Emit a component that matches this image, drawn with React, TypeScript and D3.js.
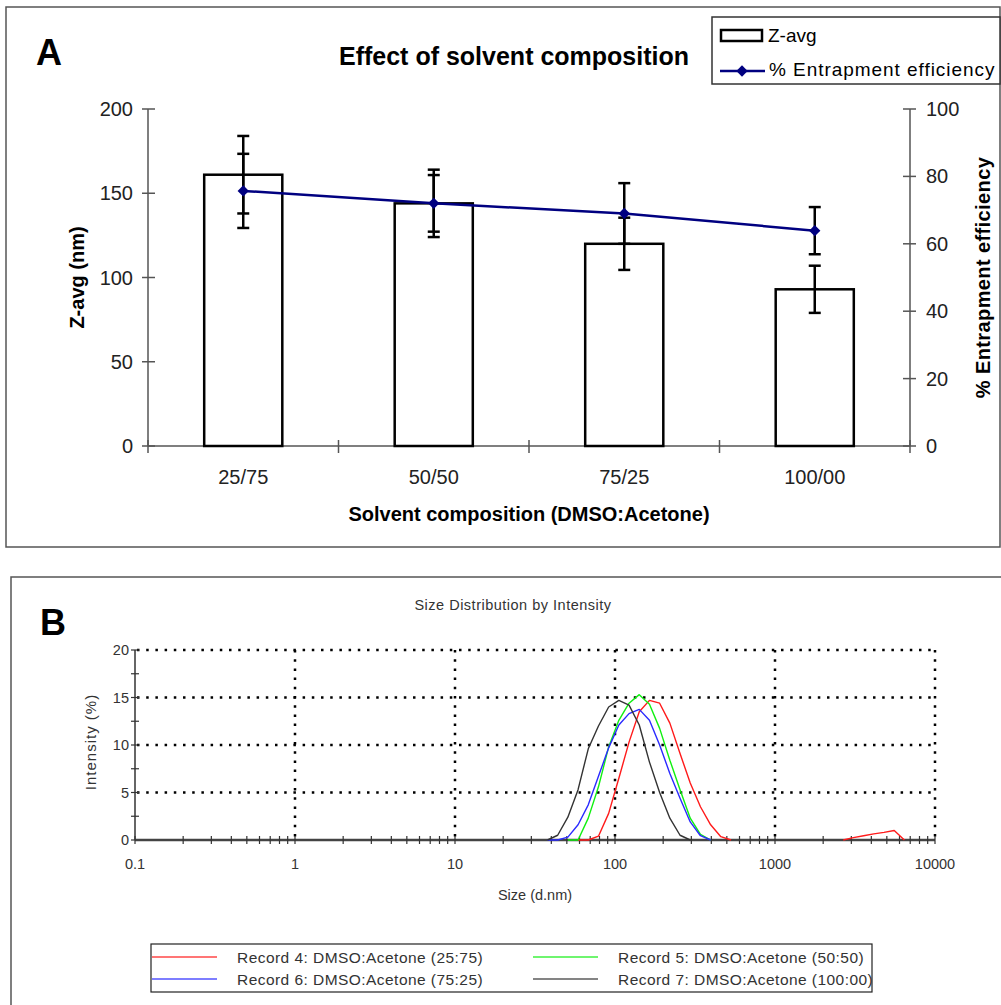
import React, { useEffect, useRef } from "react";
import * as d3 from "d3";

// ---- Panel A data ----
const compositions = ["25/75", "50/50", "75/25", "100/00"];
const zAvg = [161, 144, 120, 93];
const zAvgErr = [23, 20, 15.5, 14];
const entrapment = [75.7, 72, 69, 63.9];
const entrapmentErr = [11, 8.4, 9, 7];
const leftTicks = [0, 50, 100, 150, 200];
const rightTicks = [0, 20, 40, 60, 80, 100];

// ---- Panel B data ----
const sizeBins = [
  37.84, 43.82, 50.75, 58.77, 68.06, 78.82, 91.28, 105.7, 122.4, 141.8, 164.2,
  190.1, 220.2, 255.0, 295.3, 342.0, 396.1, 458.7, 531.2,
];
const tailBins = [2669, 3091, 3580, 4145, 4801, 5560, 6439];
const record4 = [null, null, null, 0, 0, 0.4, 2.8, 6.5, 10.3, 13.5, 14.7, 14.4, 12.3, 9.1, 6.0, 3.5, 1.6, 0.35, 0];
const record4Tail = [0, 0.25, 0.45, 0.65, 0.8, 1.0, 0];
const record5 = [null, null, 0, 0, 2.3, 5.6, 9.8, 12.6, 14.4, 15.3, 14.3, 11.75, 8.4, 5.3, 2.3, 0.6, 0, null, null];
const record6 = [0, 0, 0.3, 1.6, 3.7, 6.7, 9.7, 12.1, 13.3, 13.75, 12.6, 10.0, 7.0, 4.4, 1.9, 0.45, 0, null, null];
const record7 = [0, 0.5, 2.4, 5.3, 9.6, 12.0, 14.0, 14.7, 14.2, 12.1, 8.2, 5.0, 2.3, 0.5, 0, null, null, null, null];
const recordNames = [
  "Record 4: DMSO:Acetone (25:75)",
  "Record 5: DMSO:Acetone (50:50)",
  "Record 6: DMSO:Acetone (75:25)",
  "Record 7: DMSO:Acetone (100:00)",
];
const recordColors = ["#ff1a1a", "#10f010", "#2a2aff", "#333333"];
const intensityTicks = [0, 5, 10, 15, 20];
const sizeTicks = [0.1, 1, 10, 100, 1000, 10000];

const W = 1001;
const H = 1005;
const FONT = "'Liberation Sans', Arial, sans-serif";

const drawPanelA = (g) => {
  const x = d3
    .scaleBand()
    .domain(compositions)
    .range([148, 910])
    .paddingInner(0.59)
    .paddingOuter(0.295);
  const yL = d3.scaleLinear().domain([0, 200]).range([446, 109]);
  const yR = d3.scaleLinear().domain([0, 100]).range([446, 109]);
  const cx = (c) => x(c) + x.bandwidth() / 2;

  g.append("rect")
    .attr("x", 6).attr("y", 7).attr("width", 994).attr("height", 540)
    .attr("fill", "none").attr("stroke", "#555").attr("stroke-width", 1.5);

  g.append("text").attr("x", 36).attr("y", 65).attr("font-size", 36)
    .attr("font-weight", "bold").attr("font-family", FONT).text("A");

  g.append("text").attr("x", 514).attr("y", 65).attr("text-anchor", "middle")
    .attr("font-size", 25).attr("font-weight", "bold").attr("font-family", FONT)
    .text("Effect of solvent composition");

  // axes
  const axisColor = "#555";
  g.append("line").attr("x1", 148).attr("x2", 148).attr("y1", yL(200)).attr("y2", yL(0))
    .attr("stroke", axisColor).attr("stroke-width", 1.5);
  g.append("line").attr("x1", 910).attr("x2", 910).attr("y1", yR(100)).attr("y2", yR(0))
    .attr("stroke", axisColor).attr("stroke-width", 1.5);
  g.append("line").attr("x1", 148).attr("x2", 910).attr("y1", yL(0)).attr("y2", yL(0))
    .attr("stroke", axisColor).attr("stroke-width", 1.5);

  g.selectAll(".lt").data(leftTicks).join("line")
    .attr("x1", 142).attr("x2", 155).attr("y1", (d) => yL(d)).attr("y2", (d) => yL(d))
    .attr("stroke", axisColor).attr("stroke-width", 1.5);
  g.selectAll(".ll").data(leftTicks).join("text")
    .attr("x", 133).attr("y", (d) => yL(d)).attr("dy", "0.35em").attr("text-anchor", "end")
    .attr("font-size", 20).attr("font-family", FONT).attr("fill", "#222").text((d) => d);

  g.selectAll(".rt").data(rightTicks).join("line")
    .attr("x1", 903).attr("x2", 916).attr("y1", (d) => yR(d)).attr("y2", (d) => yR(d))
    .attr("stroke", axisColor).attr("stroke-width", 1.5);
  g.selectAll(".rl").data(rightTicks).join("text")
    .attr("x", 926).attr("y", (d) => yR(d)).attr("dy", "0.35em")
    .attr("font-size", 20).attr("font-family", FONT).attr("fill", "#222").text((d) => d);

  const bounds = compositions.map((c) => x(c) - (x.step() - x.bandwidth()) / 2).concat([910]);
  g.selectAll(".xt").data(bounds).join("line")
    .attr("x1", (d) => d).attr("x2", (d) => d).attr("y1", yL(0) - 6).attr("y2", yL(0) + 7)
    .attr("stroke", axisColor).attr("stroke-width", 1.5);
  g.selectAll(".xl").data(compositions).join("text")
    .attr("x", (d) => cx(d)).attr("y", 484).attr("text-anchor", "middle")
    .attr("font-size", 20).attr("font-family", FONT).attr("fill", "#222").text((d) => d);

  g.append("text").attr("x", 529).attr("y", 521).attr("text-anchor", "middle")
    .attr("font-size", 20).attr("font-weight", "bold").attr("font-family", FONT)
    .text("Solvent composition (DMSO:Acetone)");
  g.append("text").attr("transform", `translate(84,${(109 + 446) / 2}) rotate(-90)`)
    .attr("text-anchor", "middle").attr("font-size", 20).attr("font-weight", "bold")
    .attr("font-family", FONT).text("Z-avg (nm)");
  g.append("text").attr("transform", `translate(990,${(109 + 446) / 2}) rotate(-90)`)
    .attr("text-anchor", "middle").attr("font-size", 20).attr("font-weight", "bold")
    .attr("font-family", FONT).attr("letter-spacing", 0.4).text("% Entrapment efficiency");

  // bars
  g.selectAll(".bar").data(compositions).join("rect")
    .attr("x", (d) => x(d)).attr("width", x.bandwidth())
    .attr("y", (d, i) => yL(zAvg[i])).attr("height", (d, i) => yL(0) - yL(zAvg[i]))
    .attr("fill", "#fff").attr("stroke", "#000").attr("stroke-width", 2.5);

  const errorBars = (vals, errs, scale) => {
    compositions.forEach((c, i) => {
      const top = scale(vals[i] + errs[i]);
      const bot = scale(vals[i] - errs[i]);
      const px = cx(c);
      g.append("line").attr("x1", px).attr("x2", px).attr("y1", top).attr("y2", bot)
        .attr("stroke", "#000").attr("stroke-width", 2.5);
      [top, bot].forEach((yy) =>
        g.append("line").attr("x1", px - 6).attr("x2", px + 6).attr("y1", yy).attr("y2", yy)
          .attr("stroke", "#000").attr("stroke-width", 2.5)
      );
    });
  };
  errorBars(zAvg, zAvgErr, yL);
  errorBars(entrapment, entrapmentErr, yR);

  const line = d3.line().x((d, i) => cx(compositions[i])).y((d) => yR(d));
  g.append("path").attr("d", line(entrapment)).attr("fill", "none")
    .attr("stroke", "#000080").attr("stroke-width", 2.5);
  const diamond = d3.symbol(d3.symbolSquare, 64)();
  g.selectAll(".mk").data(entrapment).join("path")
    .attr("d", diamond).attr("fill", "#000080")
    .attr("transform", (d, i) => `translate(${cx(compositions[i])},${yR(d)}) rotate(45)`);

  // legend
  g.append("rect").attr("x", 712).attr("y", 17).attr("width", 288).attr("height", 67)
    .attr("fill", "#fff").attr("stroke", "#333").attr("stroke-width", 1.5);
  g.append("rect").attr("x", 721).attr("y", 30).attr("width", 41).attr("height", 11)
    .attr("fill", "#fff").attr("stroke", "#000").attr("stroke-width", 2.5);
  g.append("text").attr("x", 768).attr("y", 42).attr("font-size", 19).attr("font-family", FONT)
    .text("Z-avg");
  g.append("line").attr("x1", 720).attr("x2", 765).attr("y1", 71).attr("y2", 71)
    .attr("stroke", "#000080").attr("stroke-width", 2.5);
  g.append("path").attr("d", diamond).attr("fill", "#000080")
    .attr("transform", "translate(742,71) rotate(45)");
  g.append("text").attr("x", 769).attr("y", 76).attr("font-size", 19).attr("font-family", FONT)
    .attr("letter-spacing", 0.95).text("% Entrapment efficiency");
};

const drawPanelB = (g) => {
  const x = d3.scaleLog().domain([0.1, 10000]).range([135, 935]);
  const y = d3.scaleLinear().domain([0, 20]).range([840, 650]);

  g.append("rect")
    .attr("x", 11).attr("y", 577).attr("width", 1000).attr("height", 500)
    .attr("fill", "none").attr("stroke", "#555").attr("stroke-width", 1.5);

  g.append("text").attr("x", 40).attr("y", 635).attr("font-size", 36)
    .attr("font-weight", "bold").attr("font-family", FONT).text("B");

  g.append("text").attr("x", 513).attr("y", 610).attr("text-anchor", "middle")
    .attr("font-size", 14.5).attr("font-family", FONT).attr("fill", "#333")
    .attr("letter-spacing", 0.5).text("Size Distribution by Intensity");

  // dotted grid
  const dots = "2.5 6.7";
  g.selectAll(".hg").data(intensityTicks.filter((d) => d > 0)).join("line")
    .attr("x1", 137).attr("x2", 935).attr("y1", (d) => y(d)).attr("y2", (d) => y(d))
    .attr("stroke", "#000").attr("stroke-width", 2.5).attr("stroke-dasharray", dots);
  g.selectAll(".vg").data(sizeTicks.filter((d) => d > 0.1)).join("line")
    .attr("x1", (d) => x(d)).attr("x2", (d) => x(d)).attr("y1", y(20)).attr("y2", y(0))
    .attr("stroke", "#000").attr("stroke-width", 2.5).attr("stroke-dasharray", dots);

  // axes
  g.append("line").attr("x1", 135).attr("x2", 135).attr("y1", y(20)).attr("y2", y(0))
    .attr("stroke", "#333").attr("stroke-width", 1.5);
  g.selectAll(".ymt").data(d3.range(0, 20.1, 2.5)).join("line")
    .attr("x1", 131).attr("x2", 139).attr("y1", (d) => y(d)).attr("y2", (d) => y(d))
    .attr("stroke", "#333").attr("stroke-width", 1.2);
  g.selectAll(".yl").data(intensityTicks).join("text")
    .attr("x", 129).attr("y", (d) => y(d)).attr("dy", "0.36em").attr("text-anchor", "end")
    .attr("font-size", 14.5).attr("font-family", FONT).attr("fill", "#333").text((d) => d);

  g.append("line").attr("x1", 135).attr("x2", 935).attr("y1", y(0)).attr("y2", y(0))
    .attr("stroke", "#444").attr("stroke-width", 2.5);
  const minor = [];
  sizeTicks.forEach((t) => {
    if (t < 10000) for (let k = 1; k < 10; k++) minor.push(t * k);
  });
  minor.push(10000);
  g.selectAll(".xmt").data(minor).join("line")
    .attr("x1", (d) => x(d)).attr("x2", (d) => x(d)).attr("y1", y(0) - 4).attr("y2", y(0) + 4)
    .attr("stroke", "#333").attr("stroke-width", 1.2);
  g.selectAll(".xl").data(sizeTicks).join("text")
    .attr("x", (d) => x(d)).attr("y", 869).attr("text-anchor", "middle")
    .attr("font-size", 14.5).attr("font-family", FONT).attr("fill", "#333")
    .text((d) => String(d));

  g.append("text").attr("x", 535).attr("y", 900).attr("text-anchor", "middle")
    .attr("font-size", 14.5).attr("font-family", FONT).attr("fill", "#333").text("Size (d.nm)");
  g.append("text").attr("transform", `translate(96,742) rotate(-90)`)
    .attr("text-anchor", "middle").attr("font-size", 15).attr("font-family", FONT)
    .attr("letter-spacing", 1).attr("fill", "#333").text("Intensity (%)");

  // curves
  const curve = (bins) =>
    d3.line()
      .defined((d) => d != null)
      .x((d, i) => x(bins[i]))
      .y((d) => y(d));
  const series = [
    [sizeBins, record4, 0],
    [tailBins, record4Tail, 0],
    [sizeBins, record5, 1],
    [sizeBins, record6, 2],
    [sizeBins, record7, 3],
  ];
  series.forEach(([bins, vals, ci]) => {
    g.append("path").attr("d", curve(bins)(vals)).attr("fill", "none")
      .attr("stroke", recordColors[ci]).attr("stroke-width", 1.4)
      .attr("stroke-linejoin", "round");
  });

  // legend
  g.append("rect").attr("x", 151).attr("y", 944).attr("width", 721).attr("height", 48)
    .attr("fill", "#fff").attr("stroke", "#222").attr("stroke-width", 1.2);
  const legendPos = [
    [152, 957],
    [533, 957],
    [152, 979],
    [533, 979],
  ];
  recordNames.forEach((name, i) => {
    const [lx, ly] = legendPos[i];
    g.append("line").attr("x1", lx).attr("x2", lx + 65).attr("y1", ly).attr("y2", ly)
      .attr("stroke", recordColors[i]).attr("stroke-width", 2).attr("opacity", 0.6);
    g.append("text").attr("x", lx + 85).attr("y", ly).attr("dy", "0.36em")
      .attr("font-size", 15.5).attr("font-family", FONT).attr("fill", "#333")
      .attr("letter-spacing", 0.45).text(name);
  });
};

const App = () => {
  const svgRef = useRef(null);

  useEffect(() => {
    const svg = d3.select(svgRef.current);
    svg.selectAll("*").remove();
    drawPanelA(svg.append("g"));
    drawPanelB(svg.append("g"));
  }, []);

  return (
    <svg
      ref={svgRef}
      width={W}
      height={H}
      style={{ position: "absolute", left: 0, top: 0, background: "#fff" }}
    />
  );
};

export default App;
